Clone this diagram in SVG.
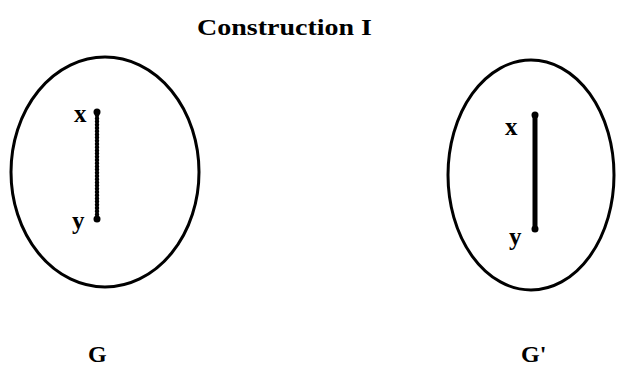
<svg xmlns="http://www.w3.org/2000/svg" width="623" height="366" viewBox="0 0 623 366">
<style>
.ell{fill:none;stroke:#000;stroke-width:3}
.lbl{font-family:"Liberation Serif",serif;font-weight:bold;fill:#000}
.dot{fill:#000}
</style>
<rect width="623" height="366" fill="#fff"/>
<text class="lbl" x="197" y="35" font-size="23" textLength="175" lengthAdjust="spacingAndGlyphs">Construction I</text>
<g id="G">
<ellipse class="ell" cx="105" cy="172" rx="94" ry="115"/>
<g id="G-x"><circle class="dot" cx="97" cy="112" r="3.5"/><text class="lbl" x="74" y="122" font-size="25">x</text></g>
<g id="G-y"><circle class="dot" cx="97" cy="219" r="3.5"/><text class="lbl" x="72" y="229" font-size="25">y</text></g>
<text class="lbl" x="88" y="362" font-size="24">G</text>
</g>
<g id="Gp">
<ellipse class="ell" cx="531" cy="175" rx="83" ry="115"/>
<g id="Gp-x"><circle class="dot" cx="535" cy="115" r="3.5"/><text class="lbl" x="505" y="135" font-size="25">x</text></g>
<g id="Gp-y"><circle class="dot" cx="535" cy="229" r="3.5"/><text class="lbl" x="509" y="245" font-size="25">y</text></g>
<text class="lbl" x="521" y="362" font-size="24">G'</text>
</g>
<g id="connectors">
<line x1="97" y1="112" x2="97" y2="219" stroke="#000" stroke-width="4.5" stroke-linecap="round" stroke-dasharray="0 3.2"/>
<line x1="535" y1="115" x2="535" y2="229" stroke="#000" stroke-width="5"/>
</g>
</svg>
